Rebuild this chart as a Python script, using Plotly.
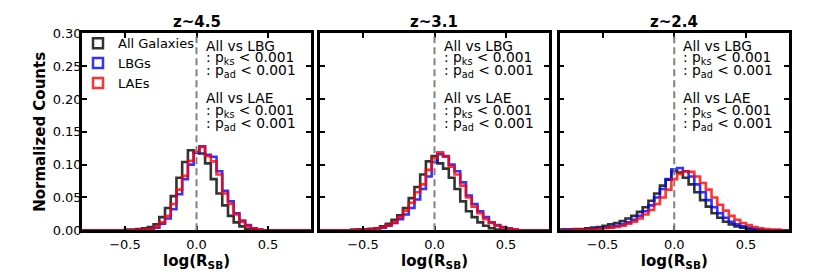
import plotly.graph_objects as go
from plotly.subplots import make_subplots

# ---------------- data ----------------
bin_centers = [-0.80, -0.76, -0.72, -0.68, -0.64, -0.60, -0.56, -0.52, -0.48, -0.44,
               -0.40, -0.36, -0.32, -0.28, -0.24, -0.20, -0.16, -0.12, -0.08, -0.04,
               0.00, 0.04, 0.08, 0.12, 0.16, 0.20, 0.24, 0.28, 0.32, 0.36,
               0.40, 0.44, 0.48, 0.52, 0.56, 0.60, 0.64, 0.68, 0.72, 0.76, 0.80]
bin_width = 0.04

panel_titles = ["z~4.5", "z~3.1", "z~2.4"]
series_names = ["All Galaxies", "LBGs", "LAEs"]

z45_all = [0, 0, 0, 0, 0, 0, 0, 0, 0.001, 0.001,
           0.002, 0.003, 0.005, 0.009, 0.020, 0.034, 0.052, 0.080, 0.104, 0.122,
           0.119, 0.117, 0.102, 0.078, 0.056, 0.038, 0.022, 0.012, 0.006, 0.002,
           0.001, 0, 0, 0, 0, 0, 0, 0, 0, 0, 0]
z45_lbg = [0, 0, 0, 0, 0, 0, 0, 0, 0, 0,
           0.001, 0.001, 0.002, 0.004, 0.010, 0.018, 0.032, 0.055, 0.078, 0.100,
           0.118, 0.128, 0.115, 0.112, 0.090, 0.060, 0.044, 0.026, 0.015, 0.008,
           0.003, 0.001, 0, 0, 0, 0, 0, 0, 0, 0, 0]
z45_lae = [0, 0, 0, 0, 0, 0, 0, 0, 0, 0,
           0.001, 0.001, 0.002, 0.005, 0.012, 0.022, 0.040, 0.062, 0.083, 0.106,
           0.120, 0.127, 0.113, 0.105, 0.085, 0.056, 0.040, 0.024, 0.013, 0.006,
           0.003, 0.001, 0, 0, 0, 0, 0, 0, 0, 0, 0]

z31_all = [0, 0, 0, 0, 0, 0, 0.001, 0.001, 0.001, 0.002,
           0.003, 0.006, 0.010, 0.016, 0.023, 0.034, 0.049, 0.066, 0.085, 0.105,
           0.113, 0.102, 0.094, 0.080, 0.063, 0.044, 0.029, 0.020, 0.012, 0.007,
           0.003, 0.001, 0, 0, 0, 0, 0, 0, 0, 0, 0]
z31_lbg = [0, 0, 0, 0, 0, 0, 0, 0.001, 0.001, 0.002,
           0.003, 0.004, 0.007, 0.011, 0.017, 0.024, 0.034, 0.047, 0.063, 0.082,
           0.104, 0.116, 0.113, 0.100, 0.090, 0.073, 0.053, 0.040, 0.029, 0.020,
           0.012, 0.008, 0.005, 0.003, 0.001, 0, 0, 0, 0, 0, 0]
z31_lae = [0, 0, 0, 0, 0, 0, 0, 0.001, 0.001, 0.002,
           0.003, 0.005, 0.008, 0.012, 0.020, 0.030, 0.042, 0.058, 0.070, 0.092,
           0.110, 0.119, 0.112, 0.097, 0.085, 0.068, 0.050, 0.036, 0.026, 0.017,
           0.011, 0.007, 0.004, 0.002, 0.001, 0, 0, 0, 0, 0, 0]

z24_all = [0.001, 0.001, 0.001, 0.002, 0.002, 0.003, 0.004, 0.005, 0.007, 0.009,
           0.011, 0.014, 0.018, 0.022, 0.028, 0.035, 0.045, 0.056, 0.068, 0.077,
           0.090, 0.088, 0.080, 0.070, 0.058, 0.046, 0.036, 0.026, 0.019, 0.013,
           0.009, 0.006, 0.004, 0.002, 0.001, 0, 0, 0, 0, 0, 0]
z24_lbg = [0, 0.001, 0.001, 0.001, 0.001, 0.002, 0.002, 0.003, 0.004, 0.005,
           0.007, 0.009, 0.012, 0.016, 0.022, 0.029, 0.038, 0.050, 0.063, 0.078,
           0.093, 0.095, 0.090, 0.082, 0.070, 0.058, 0.046, 0.035, 0.026, 0.019,
           0.013, 0.009, 0.006, 0.004, 0.002, 0.001, 0, 0, 0, 0, 0]
z24_lae = [0, 0, 0, 0.001, 0.001, 0.001, 0.001, 0.002, 0.003, 0.004,
           0.005, 0.007, 0.010, 0.013, 0.018, 0.024, 0.031, 0.040, 0.050, 0.062,
           0.078, 0.086, 0.090, 0.089, 0.082, 0.072, 0.062, 0.050, 0.039, 0.030,
           0.022, 0.016, 0.011, 0.008, 0.005, 0.003, 0.002, 0.001, 0.001, 0, 0]

x_ticks = [-0.5, 0.0, 0.5]
y_ticks = [0.00, 0.05, 0.10, 0.15, 0.20, 0.25, 0.30]

stat_lines = ["All vs LBG",
              ": p<sub>ks</sub> &lt; 0.001",
              ": p<sub>ad</sub> &lt; 0.001",
              "All vs LAE",
              ": p<sub>ks</sub> &lt; 0.001",
              ": p<sub>ad</sub> &lt; 0.001"]

# ---------------- style / layout ----------------
colors = ["rgba(0,0,0,0.8)", "rgba(0,0,255,0.8)", "rgba(255,0,0,0.8)"]
FONT = "DejaVu Sans"
OFF = 8                      # page body margin
W, H = 830 - OFF, 277 - OFF  # figure size


def px_x(x):  # page pixel -> paper fraction
    return (x - OFF) / W


def px_y(y):
    return 1 - (y - OFF) / H


x_domains = [(px_x(82), px_x(311)), (px_x(320), px_x(549)), (px_x(559.5), px_x(789))]
y_domain = (px_y(236), px_y(27.5))
stat_y_px = [40.5, 54, 67.5, 96, 109.5, 123]


def step_xy(vals):
    edges = [c - bin_width / 2 for c in bin_centers] + [bin_centers[-1] + bin_width / 2]
    xs = [edges[0]] + edges[:-1] + [edges[-1], edges[-1]]
    ys = [0] + list(vals) + [vals[-1], 0]
    return xs, ys


panels = [(z45_all, z45_lbg, z45_lae), (z31_all, z31_lbg, z31_lae), (z24_all, z24_lbg, z24_lae)]

fig = make_subplots(rows=1, cols=3)

for p, series in enumerate(panels):
    for s, vals in enumerate(series):
        xs, ys = step_xy(vals)
        fig.add_trace(go.Scatter(x=xs, y=ys, mode="lines",
                                 line=dict(color=colors[s], width=2.6, shape="hv"),
                                 showlegend=False, hoverinfo="skip"),
                      row=1, col=p + 1)

# legend entries (open squares like matplotlib step-hist patches)
for s, name in enumerate(series_names):
    fig.add_trace(go.Scatter(x=[None], y=[None], mode="markers", name=name,
                             marker=dict(symbol="square-open", size=10, color=colors[s],
                                         line=dict(width=2.5, color=colors[s]))),
                  row=1, col=1)

for p in range(3):
    xa = "xaxis" if p == 0 else f"xaxis{p + 1}"
    ya = "yaxis" if p == 0 else f"yaxis{p + 1}"
    fig.layout[xa].update(
        domain=x_domains[p], range=[-0.8, 0.8], tickvals=x_ticks, tickformat=".1f",
        ticks="inside", ticklen=5, tickwidth=2, tickcolor="black",
        showline=True, linewidth=2.5, linecolor="black", mirror="allticks",
        showgrid=False, zeroline=False, ticklabelstandoff=0,
        tickfont=dict(family=FONT, size=13, color="black"),
        title=dict(text="<b>log(R<sub>SB</sub>)</b>", font=dict(family=FONT, size=15, color="black"),
                   standoff=4))
    fig.layout[ya].update(
        domain=y_domain, range=[0, 0.30], tickvals=y_ticks, tickformat=".2f",
        ticks="inside", ticklen=5, tickwidth=2, tickcolor="black",
        showline=True, linewidth=2.5, linecolor="black", mirror="allticks",
        showgrid=False, zeroline=False, showticklabels=(p == 0),
        tickfont=dict(family=FONT, size=13, color="black"))
    xr = "x" if p == 0 else f"x{p + 1}"
    yr = "y" if p == 0 else f"y{p + 1}"
    fig.add_shape(type="line", xref=xr, yref=f"{yr} domain", x0=0, x1=0, y0=0, y1=1,
                  line=dict(color="rgba(128,128,128,1)", width=2, dash="7px,4px"), layer="above")
    fig.add_annotation(text=f"<b>{panel_titles[p]}</b>", xref="paper", yref="paper",
                       x=(x_domains[p][0] + x_domains[p][1]) / 2, y=px_y(15.5),
                       xanchor="center", yanchor="middle", showarrow=False,
                       font=dict(family=FONT, size=15, color="black"))
    for line_text, ypx in zip(stat_lines, stat_y_px):
        fig.add_annotation(text=line_text, xref=xr, yref="paper", x=0.05, y=px_y(ypx),
                           xanchor="left", yanchor="middle", showarrow=False,
                           font=dict(family=FONT, size=13.8, color="black"))

fig.layout.yaxis.ticklabelstandoff = -5
fig.layout.yaxis.title = dict(text="<b>Normalized Counts</b>",
                              font=dict(family=FONT, size=15, color="black"), standoff=4)

fig.update_layout(
    width=W, height=H, margin=dict(l=0, r=0, t=0, b=0),
    paper_bgcolor="white", plot_bgcolor="white",
    font=dict(family=FONT, size=13, color="black"),
    legend=dict(x=px_x(78), y=px_y(22), xanchor="left", yanchor="top",
                bgcolor="rgba(0,0,0,0)", font=dict(family=FONT, size=13, color="black"),
                tracegroupgap=0),
)

fig.write_html("out.html")
